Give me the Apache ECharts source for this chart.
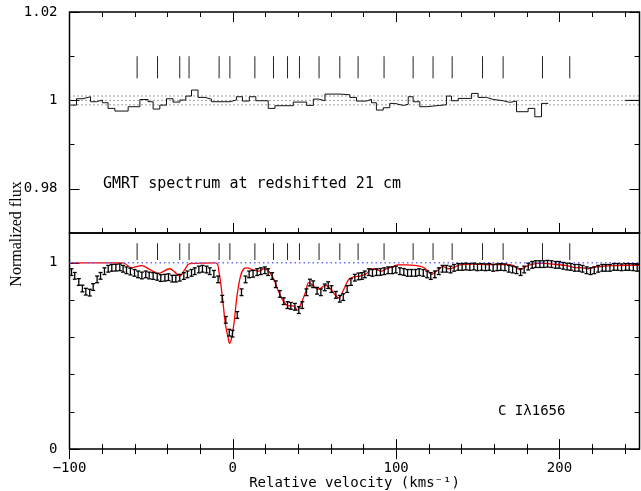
<!DOCTYPE html>
<html><head><meta charset="utf-8">
<script src="https://cdn.jsdelivr.net/npm/echarts@6/dist/echarts.min.js"></script>
<style>html,body{margin:0;padding:0;background:#fff}#c{width:641px;height:491px}</style>
</head><body><div id="c"></div>
<script>
// ---------------- data ----------------
const X_MIN = -100, X_MAX = 249;
const xMajorTicks = [-100, 0, 100, 200];
const xMinorTicks = [-80, -60, -40, -20, 20, 40, 60, 80, 120, 140, 160, 180, 220, 240];
const yTopMajor = [0.98, 1, 1.02];
const yTopMinor = [0.99, 1.01];
const yBotMajor = [0, 1];
const yBotMinor = [0.2, 0.4, 0.6, 0.8];

// velocity components (tick marks)
const componentVel = [-58.6, -46.1, -32.5, -26.8, -8.4, -1.8, 13.5, 24.9, 33.5, 40.8, 52.8, 65.5, 76.7, 92.6, 110.4, 122.6, 134.3, 152.9, 165.5, 189.6, 206.3];
const tickTopRange = [1.005, 1.010];
const tickBotRange = [1.015, 1.105];

// GMRT 21 cm spectrum (channel edges and flux)
const gmrtEdges = [-99.5, -95.7, -91.7, -87.1, -83.5, -79.9, -76.4, -72.2, -64.1, -56.9, -51.9, -48.8, -44.7, -40.6, -36.6, -32.4, -28.8, -25.3, -21.3, -17.1, -13.1, -1.8, 2.2, 5.9, 10.1, 14.1, 21.7, 25.8, 37.0, 45.2, 49.3, 52.4, 56.4, 65.6, 71.6, 75.7, 81.8, 84.9, 87.9, 92.1, 96.1, 99.2, 104.3, 107.4, 110.4, 114.5, 118.6, 122.7, 126.7, 130.8, 133.9, 138.0, 146.2, 150.2, 155.3, 159.4, 165.5, 169.6, 173.7, 180.8, 184.9, 189.0, 193.1];
const gmrtFlux = [0.99894, 1.00038, 1.00083, 0.9997, 1.00008, 0.99947, 0.99819, 0.99759, 0.99857, 1.0002, 0.9997, 0.99804, 0.99894, 1.00038, 0.99962, 1.00008, 1.00098, 1.00234, 1.00068, 1.0003, 0.9997, 1.00008, 1.00083, 0.99985, 1.00083, 0.99992, 0.99819, 0.9988, 0.99962, 0.99887, 1.0003, 0.99992, 1.00143, 1.00128, 1.00068, 0.99985, 1.00023, 0.99947, 0.99781, 0.99834, 0.99932, 0.99887, 0.9991, 1.00083, 0.9997, 0.99857, 0.99872, 0.99887, 0.99902, 1.00098, 0.99992, 1.00045, 1.00158, 1.00068, 1.00023, 0.99992, 0.99955, 0.99985, 0.99744, 0.99819, 0.9963, 0.99932];
const gmrtTailEdges = [240, 249];
const gmrtTailFlux = [1.0];
const rmsLevels = [1.001, 1.0, 0.999];

// C I 1656 data points with errors
const ciVel = [-98.8, -96.8, -94.3, -92.1, -90.0, -87.6, -85.5, -83.1, -81.0, -78.6, -76.3, -74.1, -71.6, -69.2, -67.2, -65.1, -62.7, -60.2, -58.0, -55.7, -53.3, -51.2, -48.8, -46.3, -44.1, -41.6, -39.4, -37.1, -34.9, -32.5, -30.0, -27.8, -25.3, -23.3, -20.8, -18.6, -16.1, -14.1, -11.6, -9.0, -6.5, -4.3, -2.2, -0.2, 2.7, 5.3, 7.8, 10.0, 12.4, 14.9, 17.1, 19.6, 21.6, 24.1, 26.3, 28.8, 31.2, 33.5, 35.5, 38.0, 40.4, 42.5, 45.1, 47.2, 49.2, 51.6, 53.9, 56.3, 58.4, 60.4, 63.1, 65.5, 67.6, 70.0, 72.3, 74.7, 77.0, 79.0, 80.8, 83.3, 85.5, 88.0, 90.4, 92.7, 95.1, 97.6, 99.8, 102.3, 104.7, 107.0, 109.4, 111.9, 114.1, 116.6, 119.0, 121.2, 123.7, 126.1, 128.4, 130.8, 133.3, 135.5, 138.0, 140.4, 142.7, 145.1, 147.6, 149.8, 152.3, 154.7, 157.0, 159.4, 161.9, 164.1, 166.6, 169.0, 171.3, 173.7, 176.2, 178.4, 180.9, 183.3, 185.5, 188.0, 190.4, 192.7, 195.1, 197.6, 199.8, 202.3, 204.7, 207.0, 209.4, 211.9, 214.1, 216.6, 219.0, 221.3, 223.7, 226.2, 228.4, 230.9, 233.3, 235.6, 238.0, 240.5, 242.7, 245.2, 247.6];
const ciFlux = [0.95, 0.93, 0.897, 0.862, 0.845, 0.84, 0.87, 0.911, 0.93, 0.955, 0.968, 0.973, 0.974, 0.976, 0.968, 0.96, 0.953, 0.946, 0.938, 0.932, 0.938, 0.932, 0.929, 0.925, 0.918, 0.92, 0.923, 0.915, 0.915, 0.92, 0.929, 0.938, 0.946, 0.955, 0.964, 0.968, 0.964, 0.955, 0.941, 0.911, 0.807, 0.694, 0.625, 0.62, 0.72, 0.842, 0.911, 0.938, 0.941, 0.95, 0.955, 0.96, 0.95, 0.929, 0.885, 0.833, 0.794, 0.773, 0.769, 0.764, 0.746, 0.773, 0.842, 0.894, 0.885, 0.85, 0.842, 0.868, 0.88, 0.859, 0.828, 0.807, 0.816, 0.859, 0.897, 0.92, 0.927, 0.929, 0.938, 0.95, 0.946, 0.95, 0.951, 0.955, 0.96, 0.96, 0.964, 0.955, 0.951, 0.946, 0.946, 0.946, 0.95, 0.946, 0.938, 0.929, 0.938, 0.955, 0.968, 0.968, 0.964, 0.973, 0.978, 0.978, 0.98, 0.978, 0.98, 0.976, 0.978, 0.976, 0.978, 0.973, 0.976, 0.978, 0.976, 0.968, 0.964, 0.96, 0.95, 0.964, 0.98, 0.989, 0.993, 0.993, 0.993, 0.995, 0.993, 0.989, 0.989, 0.984, 0.98, 0.978, 0.973, 0.973, 0.968, 0.96, 0.955, 0.96, 0.968, 0.973, 0.973, 0.973, 0.978, 0.978, 0.976, 0.978, 0.978, 0.976, 0.973];
const ciErr = 0.018;

// Voigt-profile fit (red)
const fitVel = [-99.5, -67.2, -62.0, -55.9, -50.8, -45.7, -38.6, -35.5, -32.5, -29.4, -26.4, -10.4, -8.4, -6.5, -4.5, -2.9, -2.0, -0.9, 0.6, 2.6, 4.7, 6.7, 8.7, 11.8, 15.9, 19.0, 22.0, 25.1, 28.2, 31.2, 34.3, 37.3, 39.4, 41.4, 44.5, 46.5, 49.6, 51.6, 53.7, 56.7, 59.8, 62.9, 64.9, 68.0, 71.0, 74.1, 77.8, 81.8, 84.9, 88.0, 91.0, 94.1, 98.2, 101.2, 106.3, 112.5, 116.6, 119.6, 121.7, 124.7, 128.8, 131.9, 134.9, 139.0, 147.2, 157.4, 167.6, 171.7, 175.8, 178.8, 181.9, 188.0, 196.2, 204.4, 208.4, 214.5, 217.6, 220.7, 224.8, 232.9, 241.1, 249];
const fitFlux = [1.0, 1.0, 0.973, 0.985, 0.964, 0.943, 0.968, 0.95, 0.929, 0.964, 0.996, 1.0, 0.946, 0.825, 0.668, 0.599, 0.568, 0.59, 0.668, 0.825, 0.929, 0.968, 0.973, 0.964, 0.955, 0.968, 0.955, 0.911, 0.842, 0.79, 0.769, 0.769, 0.746, 0.773, 0.842, 0.894, 0.876, 0.859, 0.863, 0.88, 0.859, 0.825, 0.811, 0.859, 0.911, 0.925, 0.929, 0.941, 0.968, 0.964, 0.955, 0.968, 0.98, 0.989, 0.989, 0.985, 0.976, 0.955, 0.938, 0.955, 0.98, 0.968, 0.973, 0.989, 0.993, 0.991, 0.991, 0.985, 0.964, 0.976, 0.989, 0.998, 0.993, 0.985, 0.976, 0.973, 0.968, 0.976, 0.98, 0.985, 0.987, 0.987];
const continuumLevel = 1.0;

// ---------------- chart ----------------
const MONO = '"DejaVu Sans Mono", monospace';
const chart = echarts.init(document.getElementById('c'), null, {renderer: 'canvas'});

function xAxesFor(gridIndex, withLabels) {
  const base = {type: 'value', gridIndex, min: X_MIN, max: X_MAX, axisLine: {show: false}, splitLine: {show: false}};
  const tick = (vals, len) => ({show: true, inside: true, length: len, customValues: vals, lineStyle: {color: '#000', width: 1}});
  const main = Object.assign({}, base, {position: 'bottom', axisTick: tick(xMajorTicks, 10)});
  if (withLabels) {
    main.axisLabel = {show: true, customValues: xMajorTicks, margin: 12, color: '#000', fontFamily: MONO, fontSize: 14,
      formatter: v => String(v).replace('-', '\u2212')};
    main.name = 'Relative velocity (kms\u207B\u00B9)';
    main.nameLocation = 'middle';
    main.nameGap = 26;
    main.nameTextStyle = {color: '#000', fontFamily: MONO, fontSize: 14};
  } else {
    main.axisLabel = {show: false};
  }
  return [
    main,
    Object.assign({}, base, {position: 'bottom', axisTick: tick(xMinorTicks, 5), axisLabel: {show: false}}),
    Object.assign({}, base, {position: 'top', axisTick: tick(xMajorTicks, 10), axisLabel: {show: false}}),
    Object.assign({}, base, {position: 'top', axisTick: tick(xMinorTicks, 5), axisLabel: {show: false}})
  ];
}
function yAxesFor(gridIndex, min, max, major, minor, fmt) {
  const base = {type: 'value', gridIndex, min, max, axisLine: {show: false, onZero: false}, splitLine: {show: false}};
  const tick = (vals, len) => ({show: true, inside: true, length: len, customValues: vals, lineStyle: {color: '#000', width: 1}});
  return [
    Object.assign({}, base, {position: 'left', axisTick: tick(major, 10),
      axisLabel: {show: true, customValues: major, margin: 12, color: '#000', fontFamily: MONO, fontSize: 14, formatter: fmt}}),
    Object.assign({}, base, {position: 'left', axisTick: tick(minor, 5), axisLabel: {show: false}}),
    Object.assign({}, base, {position: 'right', axisTick: tick(major, 10), axisLabel: {show: false}}),
    Object.assign({}, base, {position: 'right', axisTick: tick(minor, 5), axisLabel: {show: false}})
  ];
}
const fmtY = v => (Math.abs(v - 1) < 1e-9 ? '1' : (Math.abs(v) < 1e-9 ? '0' : v.toFixed(2)));

function stepData(edges, vals) {
  const d = vals.map((v, i) => [edges[i], v]);
  d.push([edges[edges.length - 1], vals[vals.length - 1]]);
  return d;
}
function componentSeries(xi, yi, range) {
  return {
    type: 'custom', xAxisIndex: xi, yAxisIndex: yi, silent: true,
    data: componentVel.map(v => [v, range[0], range[1]]),
    encode: {x: 0, y: [1, 2]},
    renderItem: (params, api) => {
      const a = api.coord([api.value(0), api.value(1)]);
      const b = api.coord([api.value(0), api.value(2)]);
      return {type: 'line', shape: {x1: a[0], y1: a[1], x2: b[0], y2: b[1]}, style: {stroke: '#222', lineWidth: 1}};
    }
  };
}

const series = [];
rmsLevels.forEach(l => series.push({
  type: 'line', xAxisIndex: 0, yAxisIndex: 0, symbol: 'none', silent: true,
  data: [[X_MIN, l], [X_MAX, l]],
  lineStyle: {color: '#444', width: 1, type: [1, 3]}
}));
series.push({
  type: 'line', xAxisIndex: 0, yAxisIndex: 0, symbol: 'none', step: 'end', silent: true,
  data: stepData(gmrtEdges, gmrtFlux), lineStyle: {color: '#111', width: 1}
});
series.push({
  type: 'line', xAxisIndex: 0, yAxisIndex: 0, symbol: 'none', step: 'end', silent: true,
  data: stepData(gmrtTailEdges, gmrtTailFlux), lineStyle: {color: '#111', width: 1}
});
series.push(componentSeries(0, 0, tickTopRange));

series.push({
  type: 'line', xAxisIndex: 4, yAxisIndex: 4, symbol: 'none', silent: true, smooth: 0.35,
  data: fitVel.map((v, i) => [v, fitFlux[i]]),
  lineStyle: {color: '#ff0000', width: 1.3}, z: 3
});
series.push({
  type: 'line', xAxisIndex: 4, yAxisIndex: 4, symbol: 'none', silent: true,
  data: [[X_MIN, continuumLevel], [X_MAX, continuumLevel]],
  lineStyle: {color: '#6b6bff', width: 1.5, type: [1.5, 3]}, z: 4
});
series.push({
  type: 'custom', xAxisIndex: 4, yAxisIndex: 4, silent: true, z: 5,
  data: ciVel.map((v, i) => [v, ciFlux[i], ciErr]),
  encode: {x: 0, y: 1},
  renderItem: (params, api) => {
    const x = api.value(0), y = api.value(1), e = api.value(2);
    const t = api.coord([x, y + e]);
    const b = api.coord([x, y - e]);
    const c = 2;
    const st = {stroke: '#000', lineWidth: 1.3};
    return {type: 'group', children: [
      {type: 'line', shape: {x1: t[0], y1: t[1], x2: b[0], y2: b[1]}, style: st},
      {type: 'line', shape: {x1: t[0] - c, y1: t[1], x2: t[0] + c, y2: t[1]}, style: st},
      {type: 'line', shape: {x1: b[0] - c, y1: b[1], x2: b[0] + c, y2: b[1]}, style: st}
    ]};
  }
});
series.push(componentSeries(4, 4, tickBotRange));

chart.setOption({
  animation: false,
  backgroundColor: '#fff',
  grid: [
    {left: 69.5, top: 12, width: 570, height: 221, show: true, borderColor: '#000', borderWidth: 1.5, backgroundColor: 'transparent'},
    {left: 69.5, top: 233, width: 570, height: 222, show: true, borderColor: '#000', borderWidth: 1.5, backgroundColor: 'transparent'}
  ],
  xAxis: xAxesFor(0, false).concat(xAxesFor(1, true)),
  yAxis: yAxesFor(0, 0.97, 1.02, yTopMajor, yTopMinor, fmtY).concat(yAxesFor(1, 0, 1.16, yBotMajor, yBotMinor, fmtY)),
  series,
  graphic: [
    {type: 'text', left: 103, top: 177, style: {text: 'GMRT spectrum at redshifted 21 cm', font: '15px ' + MONO, fill: '#000'}},
    {type: 'text', left: 498, top: 404, style: {text: 'C I\u03BB1656', font: '14px ' + MONO, fill: '#000'}},
    {type: 'text', x: 17, y: 234, rotation: Math.PI / 2, style: {text: 'Normalized flux', font: '16px "Liberation Serif", serif', fill: '#000', align: 'center', verticalAlign: 'middle'}}
  ]
});
</script>
</body></html>
